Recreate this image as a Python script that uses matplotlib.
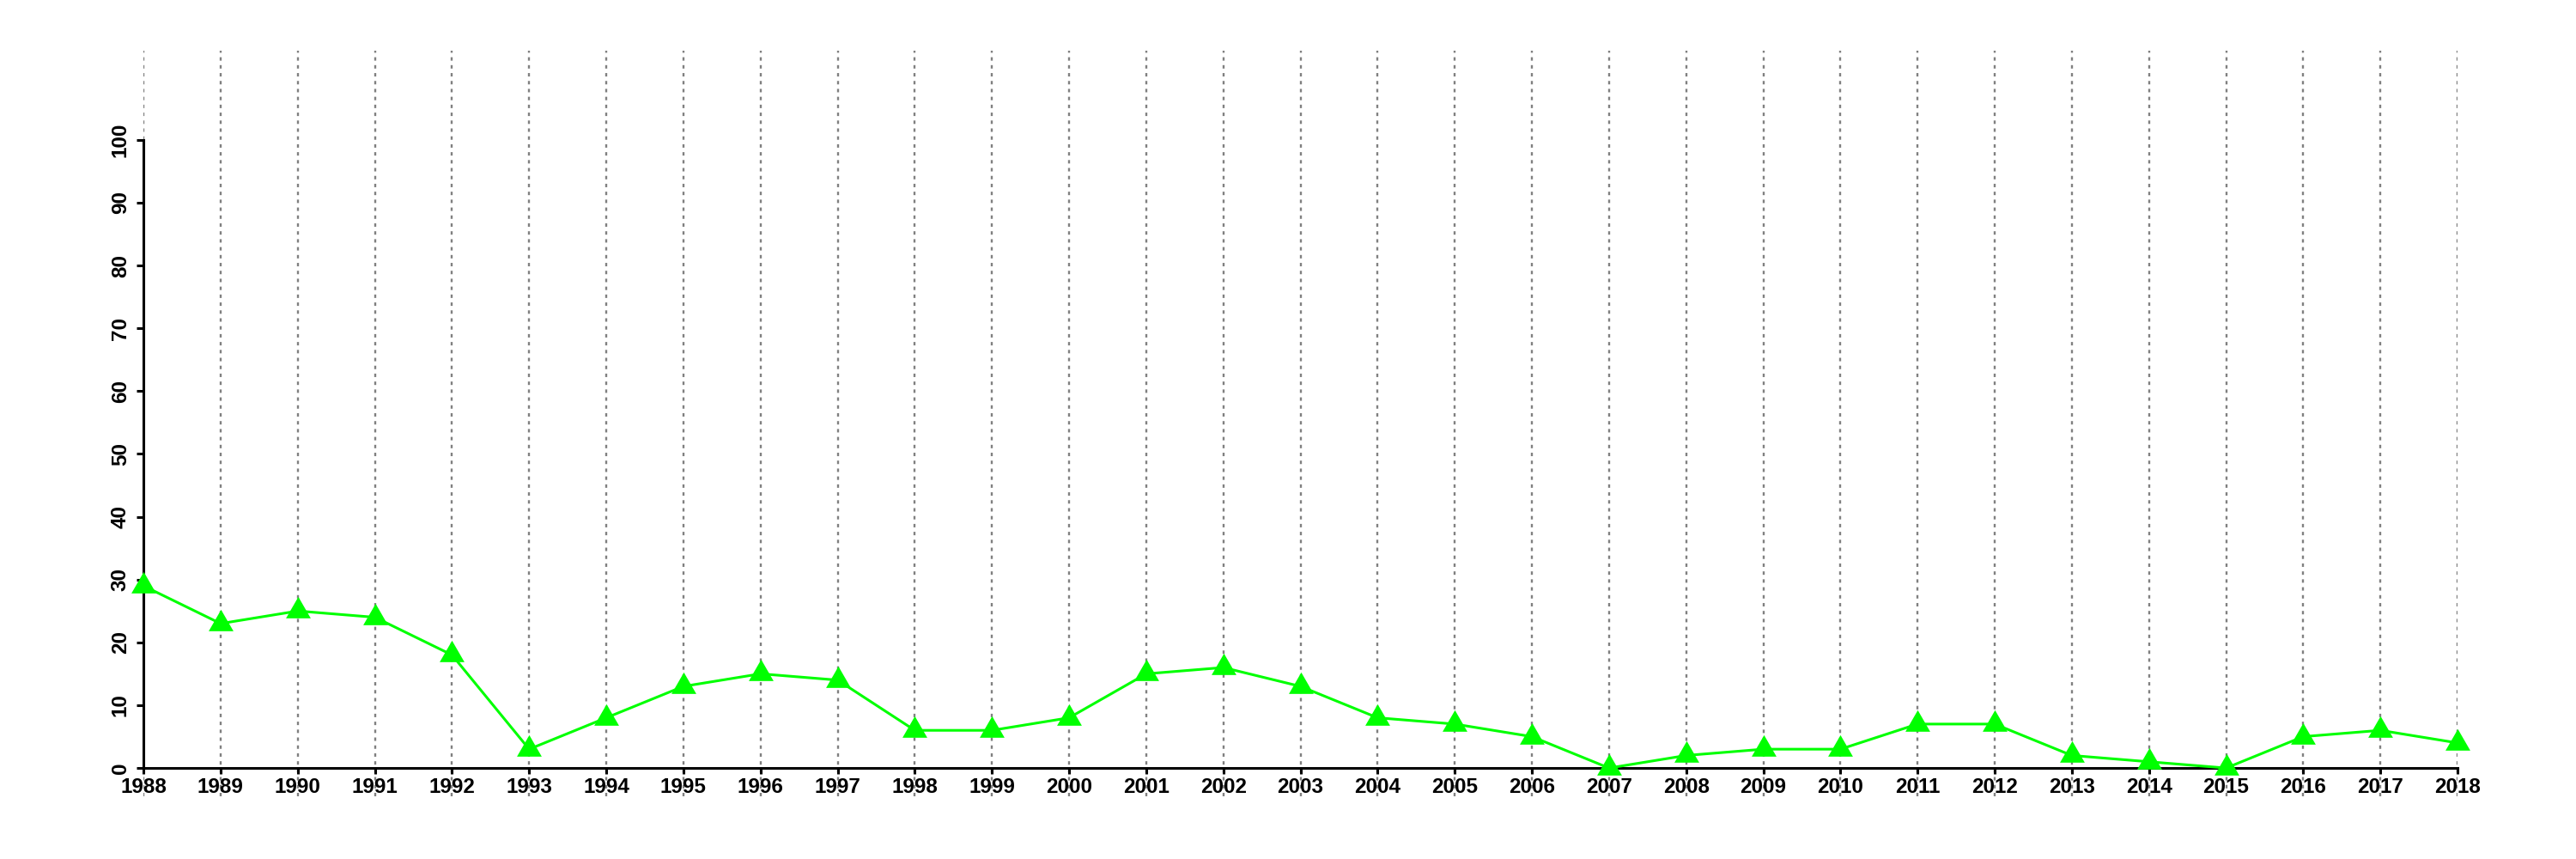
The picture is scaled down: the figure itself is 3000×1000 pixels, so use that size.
import matplotlib
matplotlib.use("Agg")
import matplotlib.pyplot as plt

years = list(range(1988, 2019))
values = [29, 23, 25, 24, 18, 3, 8, 13, 15, 14, 6, 6, 8, 15, 16, 13,
          8, 7, 5, 0, 2, 3, 3, 7, 7, 2, 1, 0, 5, 6, 4]
yticks = list(range(0, 101, 10))

plt.rcParams['font.family'] = ['Liberation Sans', 'DejaVu Sans']

fig = plt.figure(figsize=(30, 10), dpi=100)
ax = fig.add_axes([0.0557, 0.073, 0.8983, 0.868])

# vertical dotted guides, one per year
for yr in years:
    ax.axvline(yr, color='#808080', linestyle=(0, (1.7, 2.2)), linewidth=1.7, zorder=1)

# filled triangle, centred on its centroid (like R pch=17)
tri = [(-1.0, -0.577), (1.0, -0.577), (0.0, 1.155)]
ax.plot(years, values, color='#00ff00', linewidth=2.2, marker=tri,
        markersize=24, markeredgewidth=0, zorder=3, clip_on=False)

ax.set_xlim(years[0], years[-1])
ax.set_ylim(-4.5, 114.2)

for s in ['top', 'right']:
    ax.spines[s].set_visible(False)
ax.spines['left'].set_bounds(0, 100)
ax.spines['bottom'].set_position(('data', 0))
ax.spines['bottom'].set_bounds(years[0], years[-1])
ax.spines['left'].set_linewidth(2.2)
ax.spines['bottom'].set_linewidth(2.2)

ax.set_xticks(years)
ax.set_xticklabels([str(y) for y in years], fontsize=17.5, fontweight='bold')
ax.set_yticks(yticks)
ax.set_yticklabels([str(v) for v in yticks], fontsize=17.5, fontweight='bold',
                   rotation=90, va='center')
ax.tick_params(axis='x', length=5, width=2.2, pad=3)
ax.tick_params(axis='y', length=6, width=2.2, pad=5)

fig.savefig('out.png', dpi=100)
